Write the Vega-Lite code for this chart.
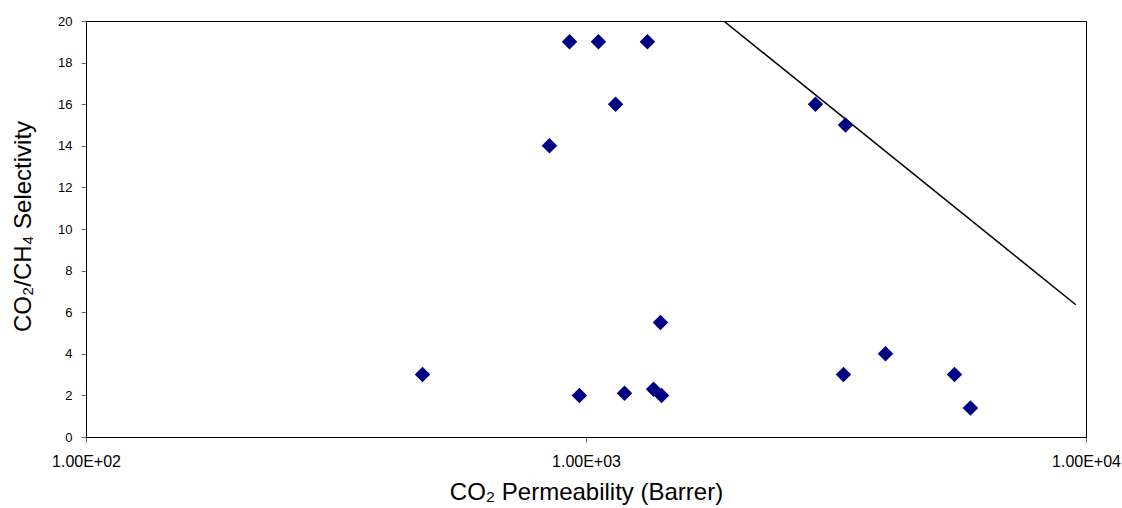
{
  "$schema": "https://vega.github.io/schema/vega-lite/v6.json",
  "width": 1000,
  "height": 416,
  "autosize": {"type": "none"},
  "padding": {"left": 86, "top": 21, "right": 36, "bottom": 71},
  "background": "white",
  "config": {
    "font": "Liberation Sans",
    "view": {"stroke": "#000000", "strokeWidth": 1},
    "axis": {
      "grid": false,
      "domainColor": "#000000",
      "domainWidth": 1,
      "tickColor": "#666666",
      "tickSize": 5,
      "labelFont": "Liberation Sans",
      "labelFontSize": 13,
      "labelColor": "#000000",
      "titleFont": "Liberation Sans",
      "titleFontSize": 24,
      "titleFontWeight": "normal",
      "titleColor": "#000000"
    }
  },
  "datasets": {
    "points": [
      {"permeability": 471, "selectivity": 3},
      {"permeability": 845, "selectivity": 14},
      {"permeability": 927, "selectivity": 19},
      {"permeability": 970, "selectivity": 2},
      {"permeability": 1059, "selectivity": 19},
      {"permeability": 1146, "selectivity": 16},
      {"permeability": 1194, "selectivity": 2.1},
      {"permeability": 1327, "selectivity": 19},
      {"permeability": 1365, "selectivity": 2.3},
      {"permeability": 1409, "selectivity": 5.5},
      {"permeability": 1416, "selectivity": 2},
      {"permeability": 2877, "selectivity": 16},
      {"permeability": 3304, "selectivity": 15},
      {"permeability": 3273, "selectivity": 3},
      {"permeability": 3972, "selectivity": 4},
      {"permeability": 5457, "selectivity": 3},
      {"permeability": 5873, "selectivity": 1.4}
    ],
    "bound": [
      {"permeability": 1886, "selectivity": 20},
      {"permeability": 9541, "selectivity": 6.36}
    ]
  },
  "encoding": {
    "x": {
      "field": "permeability",
      "type": "quantitative",
      "scale": {"type": "log", "domain": [100, 10000], "nice": false},
      "axis": {
        "values": [100, 1000, 10000],
        "labelExpr": "'1.00E+0' + round(log(datum.value) / LN10)",
        "labelFontSize": 16,
        "labelFlush": false,
        "labelOverlap": false,
        "labelPadding": 11,
        "title": "CO₂ Permeability (Barrer)",
        "titleBaseline": "middle",
        "titleY": 55
      }
    },
    "y": {
      "field": "selectivity",
      "type": "quantitative",
      "scale": {"domain": [0, 20], "nice": false},
      "axis": {
        "values": [0, 2, 4, 6, 8, 10, 12, 14, 16, 18, 20],
        "labelPadding": 9,
        "title": "CO₂/CH₄ Selectivity",
        "titleBaseline": "middle",
        "titleX": -63,
        "titleY": 205
      }
    }
  },
  "layer": [
    {
      "data": {"name": "bound"},
      "mark": {"type": "line", "color": "#000000", "strokeWidth": 1.5, "clip": true}
    },
    {
      "data": {"name": "points"},
      "mark": {"type": "point", "shape": "diamond", "filled": true, "color": "#000080", "opacity": 1, "size": 240}
    }
  ]
}
